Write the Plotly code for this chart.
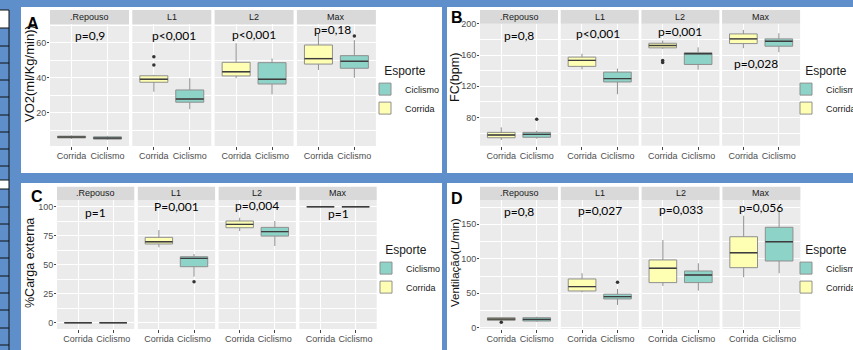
import plotly.graph_objects as go

W, H = 853, 350

# ---------------- data ----------------
phases = [".Repouso", "L1", "L2", "Max"]
sports = ["Corrida", "Ciclismo"]

# per phase: [lower whisker, Q1, median, Q3, upper whisker]
vo2_corrida = [[5.0, 5.6, 6.1, 6.6, 7.0], [32.0, 37.4, 39.1, 41.1, 41.6],
               [39.7, 41.0, 43.4, 48.8, 59.7], [44.4, 47.8, 50.9, 58.7, 65.5]]
vo2_ciclismo = [[4.4, 4.9, 5.5, 6.2, 6.8], [22.0, 26.0, 27.8, 33.0, 39.7],
                [30.5, 36.4, 39.1, 48.6, 51.0], [40.0, 45.4, 49.4, 52.6, 61.5]]
vo2_corrida_out = [[], [47.3, 52.0], [], []]
vo2_ciclismo_out = [[], [], [], [63.8]]
vo2_p = ["p=0,9", "p<0,001", "p<0,001", "p=0,18"]

fc_corrida = [[51.0, 53.9, 57.4, 60.8, 67.2], [141.7, 145.5, 153.2, 157.4, 161.7],
              [168.1, 169.3, 172.3, 175.2, 178.7], [168.8, 174.8, 180.8, 187.2, 192.3]]
fc_ciclismo = [[52.7, 54.5, 58.3, 60.8, 62.9], [109.8, 125.5, 129.8, 138.2, 142.6],
               [141.3, 148.0, 161.7, 163.0, 170.0], [163.7, 171.4, 177.8, 180.8, 188.0]]
fc_corrida_out = [[], [], [150.6, 153.1], []]
fc_ciclismo_out = [[77.8], [], [], []]
fc_p = ["p=0,8", "p<0,001", "p=0,001", "p=0,028"]

carga_corrida = [[0, 0, 0, 0, 0], [65.0, 67.9, 69.8, 73.6, 79.9],
                 [79.0, 81.9, 84.8, 87.7, 90.5], [100, 100, 100, 100, 100]]
carga_ciclismo = [[0, 0, 0, 0, 0], [39.7, 48.3, 55.5, 56.9, 59.2],
                  [66.1, 74.7, 78.5, 82.2, 87.7], [100, 100, 100, 100, 100]]
carga_corrida_out = [[], [], [], []]
carga_ciclismo_out = [[], [35.3], [], []]
carga_p = ["p=1", "P=0,001", "p=0,004", "p=1"]

vent_corrida = [[10.0, 10.7, 12.5, 14.5, 15.0], [51.4, 53.3, 59.6, 70.7, 79.0],
                [60.6, 65.4, 86.2, 98.3, 127.2], [73.2, 87.1, 108.8, 132.0, 162.5]]
vent_ciclismo = [[8.7, 9.7, 12.0, 14.5, 16.0], [33.0, 41.7, 45.1, 48.6, 56.2],
                 [53.8, 65.4, 76.5, 82.3, 93.5], [79.0, 96.8, 124.8, 145.7, 170.7]]
vent_corrida_out = [[7.8], [], [], []]
vent_ciclismo_out = [[], [65.9], [], []]
vent_p = ["p=0,8", "p=0,027", "p=0,033", "p=0,056"]

# ---------------- style / layout ----------------
fills = {"Corrida": "#FFFFB3", "Ciclismo": "#8DD3C7"}
rank = {"Ciclismo": 1, "Corrida": 2}
BLUE = "#5e8fcb"
BOX_LINE = "#8f8f8f"
MED_LINE = "#3d3d3d"
BOXW = 0.78

panels = [
    dict(letter="A", ytitle="VO2(ml/Kg/min))",
         data={"Corrida": vo2_corrida, "Ciclismo": vo2_ciclismo},
         out={"Corrida": vo2_corrida_out, "Ciclismo": vo2_ciclismo_out}, pvals=vo2_p,
         yrange=[0.97, 70.7], dtick=20, fx0=50, fstep=82.3, fw=79,
         top=24, bottom=146, strip_top=10,
         letter_pos=(33, 23), ytitle_pos=(29, 74), ytitle_size=13,
         legend_pos=(365, 59), p_y=[64.4, 64.3, 64.6, 67.5], p_x=[0.5, 0.55, 0.5, 0.4]),
    dict(letter="B", ytitle="FC(bpm)",
         data={"Corrida": fc_corrida, "Ciclismo": fc_ciclismo},
         out={"Corrida": fc_corrida_out, "Ciclismo": fc_ciclismo_out}, pvals=fc_p,
         yrange=[43.7, 200.3], dtick=40, fx0=480, fstep=80.7, fw=78,
         top=23.7, bottom=145.7, strip_top=10,
         letter_pos=(457, 18), ytitle_pos=(455, 78), ytitle_size=12.5,
         legend_pos=(786, 59), p_y=[185, 188, 190, 149.7], p_x=[0.5, 0.45, 0.5, 0.35]),
    dict(letter="C", ytitle="%Carga externa",
         data={"Corrida": carga_corrida, "Ciclismo": carga_ciclismo},
         out={"Corrida": carga_corrida_out, "Ciclismo": carga_ciclismo_out}, pvals=carga_p,
         yrange=[-5.4, 105.8], dtick=25, fx0=57, fstep=80.8, fw=77.3,
         top=200, bottom=329, strip_top=186.7,
         letter_pos=(37, 196), ytitle_pos=(30, 263), ytitle_size=12.5,
         legend_pos=(366, 238), p_y=[95.2, 100, 100.9, 94.3], p_x=[0.5, 0.5, 0.5, 0.5]),
    dict(letter="D", ytitle="Ventilação(L/min)",
         data={"Corrida": vent_corrida, "Ciclismo": vent_ciclismo},
         out={"Corrida": vent_corrida_out, "Ciclismo": vent_ciclismo_out}, pvals=vent_p,
         yrange=[-1.9, 185.3], dtick=50, fx0=480, fstep=80.8, fw=78,
         top=200, bottom=329, strip_top=186.7,
         letter_pos=(457, 198), ytitle_pos=(455, 263), ytitle_size=11.5,
         legend_pos=(786, 238), p_y=[168.3, 170.7, 172.2, 174.6], p_x=[0.5, 0.5, 0.5, 0.5]),
]

fig = go.Figure()
shapes = []
annotations = []
layout = {}


def prect(x0, y0, x1, y1, fill):
    return dict(type="rect", xref="paper", yref="paper", layer="below",
                x0=x0 / W, x1=x1 / W, y0=1 - y1 / H, y1=1 - y0 / H,
                fillcolor=fill, line=dict(width=0, color=fill))


# blue frame bands of the composite screenshot
shapes += [
    prect(0, 0, W, 7, BLUE),
    prect(0, 173, W, 183, BLUE),
    prect(0, 0, 21, H, BLUE),
    prect(442, 0, 447, H, BLUE),
    prect(0, 10, 9, 28, "white"),
    prect(0, 180, 9, 189, "white"),
]
for yy in [10, 28, 46, 63, 80, 97, 115, 132, 149, 166, 180, 189, 207, 224, 241, 258, 276, 293, 310, 328, 345]:
    shapes.append(dict(type="line", xref="paper", yref="paper", layer="below",
                       x0=0, x1=9 / W, y0=1 - yy / H, y1=1 - yy / H,
                       line=dict(color="#111111", width=1)))
shapes.append(dict(type="line", xref="paper", yref="paper", layer="below",
                   x0=9 / W, x1=9 / W, y0=0, y1=1 - 10 / H, line=dict(color="#111111", width=1)))

for pi, P in enumerate(panels):
    legname = "legend" if pi == 0 else f"legend{pi + 1}"
    for f in range(4):
        n = pi * 4 + f + 1
        xr = "x" if n == 1 else f"x{n}"
        yr = "y" if n == 1 else f"y{n}"
        x0 = P["fx0"] + f * P["fstep"]
        x1 = x0 + P["fw"]
        for si, s in enumerate(sports):
            st = P["data"][s][f]
            fig.add_trace(go.Box(
                x=[s], lowerfence=[st[0]], q1=[st[1]], median=[st[2]], q3=[st[3]],
                upperfence=[st[4]], name=s, fillcolor=fills[s],
                line=dict(color=BOX_LINE, width=1), width=BOXW, whiskerwidth=0,
                boxpoints=False, xaxis=xr, yaxis=yr, legend=legname,
                showlegend=(f == 0), legendrank=rank[s], hoverinfo="skip"))
            outs = P["out"][s][f]
            if outs:
                fig.add_trace(go.Scatter(
                    x=[s] * len(outs), y=outs, mode="markers",
                    marker=dict(color="#333333", size=3.5), showlegend=False,
                    xaxis=xr, yaxis=yr, hoverinfo="skip"))
            shapes.append(dict(type="line", xref=xr, yref=yr,
                               x0=si - BOXW / 2, x1=si + BOXW / 2, y0=st[2], y1=st[2],
                               line=dict(color=MED_LINE, width=1.4)))
        layout["xaxis" if n == 1 else f"xaxis{n}"] = dict(
            domain=[x0 / W, x1 / W], anchor=yr, type="category",
            categoryorder="array", categoryarray=sports, range=[-0.6, 1.6],
            showgrid=True, gridcolor="white", gridwidth=1, zeroline=False,
            ticks="outside", ticklen=3, tickcolor="#444444", ticklabelstandoff=-2,
            tickfont=dict(size=9, color="#4d4d4d"), fixedrange=True)
        layout["yaxis" if n == 1 else f"yaxis{n}"] = dict(
            domain=[1 - P["bottom"] / H, 1 - P["top"] / H], anchor=xr,
            range=P["yrange"], tickmode="linear", tick0=0, dtick=P["dtick"],
            showgrid=True, gridcolor="white", gridwidth=1, zeroline=False,
            minor=dict(tick0=0, dtick=P["dtick"] / 2, showgrid=True,
                       gridcolor="white", gridwidth=0.5),
            ticks="outside" if f == 0 else "", ticklen=2, tickcolor="#444444",
            ticklabelstandoff=-1,
            showticklabels=(f == 0), tickfont=dict(size=9, color="#4d4d4d"),
            fixedrange=True)
        # facet strip
        shapes.append(prect(x0, P["strip_top"], x1, P["top"], "#D9D9D9"))
        annotations.append(dict(xref="paper", yref="paper", x=(x0 + x1) / 2 / W,
                                y=1 - (P["strip_top"] + P["top"]) / 2 / H,
                                text=phases[f], showarrow=False,
                                font=dict(size=9, color="#1a1a1a"),
                                xanchor="center", yanchor="middle"))
        # p-values
        annotations.append(dict(xref=xr, yref=yr, x=P["p_x"][f], y=P["p_y"][f],
                                text=P["pvals"][f], showarrow=False,
                                font=dict(family="Lato", size=12, color="black"),
                                xanchor="center", yanchor="middle"))
    # panel letter and y title
    lx, ly = P["letter_pos"]
    annotations.append(dict(xref="paper", yref="paper", x=lx / W, y=1 - ly / H,
                            text="<b>" + P["letter"] + "</b>", showarrow=False,
                            font=dict(size=16, color="black"),
                            xanchor="center", yanchor="middle"))
    tx, ty = P["ytitle_pos"]
    annotations.append(dict(xref="paper", yref="paper", x=tx / W, y=1 - ty / H,
                            text=P["ytitle"], showarrow=False, textangle=-90,
                            font=dict(size=P["ytitle_size"], color="#111111"),
                            xanchor="center", yanchor="middle"))
    gx, gy = P["legend_pos"]
    layout[legname] = dict(
        x=gx / W, y=1 - gy / H, xanchor="left", yanchor="top",
        title=dict(text="Esporte", side="top center", font=dict(size=12, color="#1a1a1a")),
        font=dict(size=9, color="#1a1a1a"), bgcolor="rgba(0,0,0,0)",
        tracegroupgap=0, itemclick=False, itemdoubleclick=False)

fig.update_layout(
    width=W, height=H, margin=dict(l=0, r=0, t=0, b=0, autoexpand=False),
    paper_bgcolor="white", plot_bgcolor="#EBEBEB",
    font=dict(family="Liberation Sans, Arial, sans-serif", color="#1a1a1a"),
    boxmode="overlay", shapes=shapes, annotations=annotations, **layout)

page_fix = (
    "document.documentElement.style.overflow='hidden';"
    "document.body.style.overflow='hidden';"
    "document.body.style.margin='0';document.body.style.padding='0';"
)
fig.write_html("out.html", config={"displayModeBar": False}, post_script=page_fix)
